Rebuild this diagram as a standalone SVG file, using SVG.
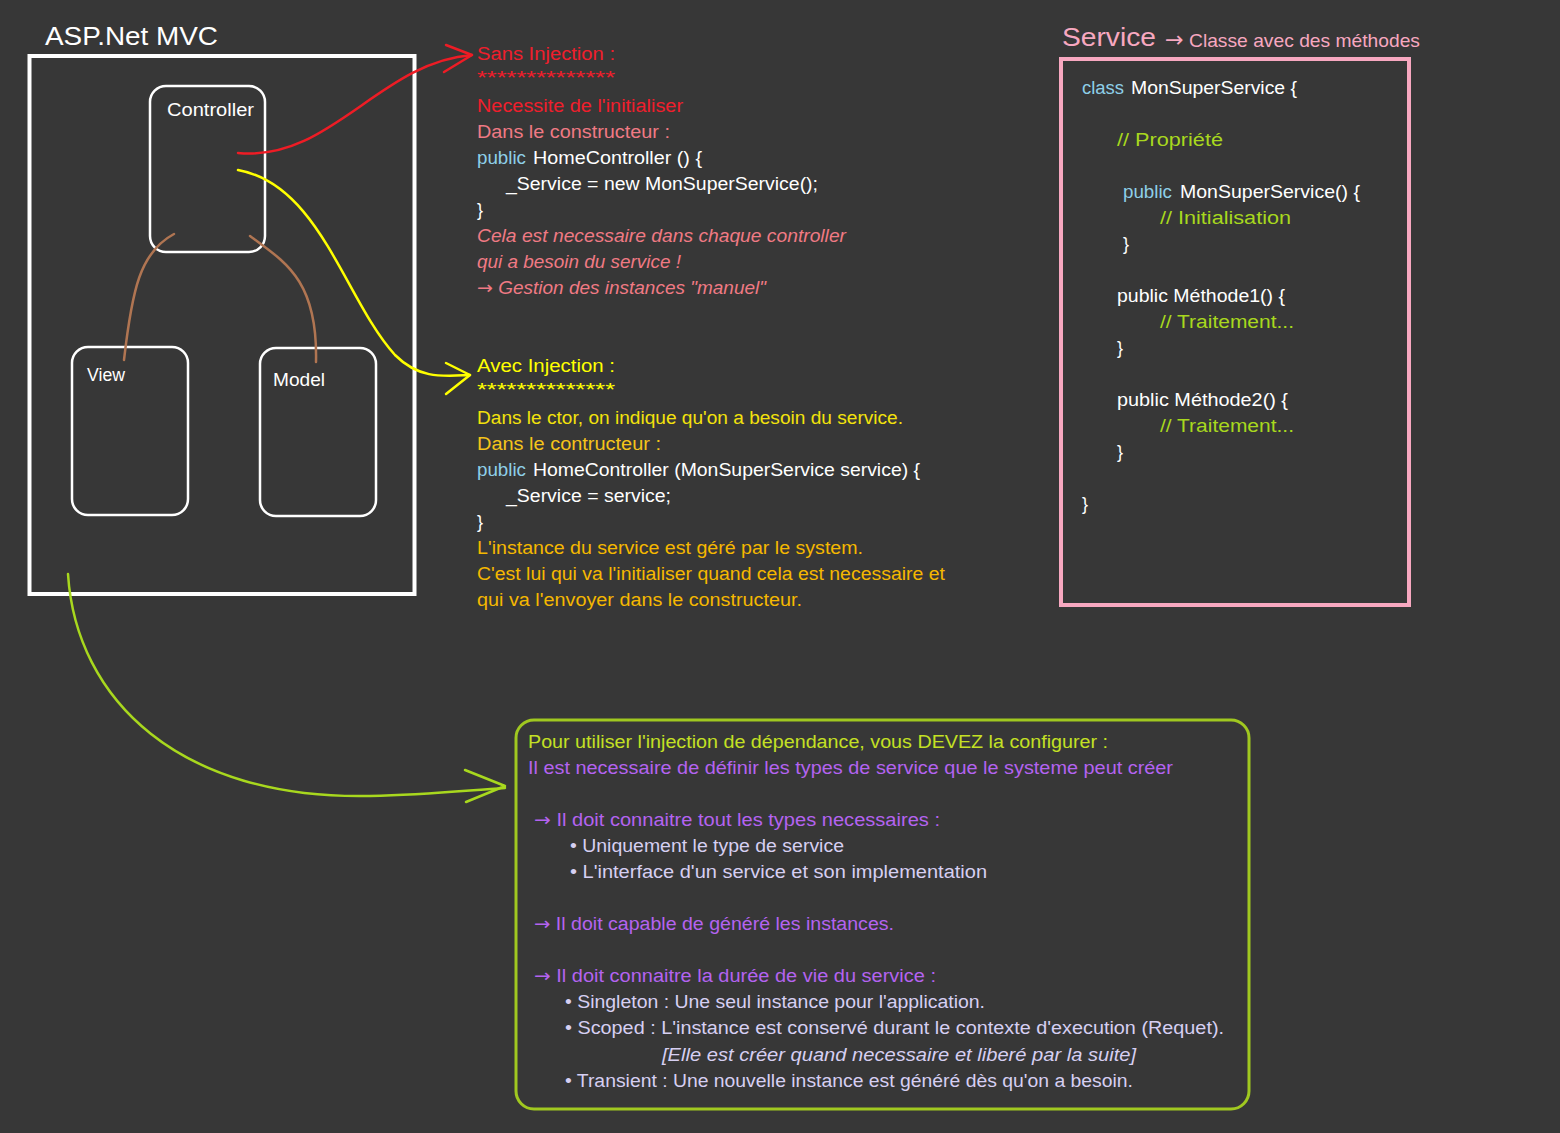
<svg xmlns="http://www.w3.org/2000/svg" width="1560" height="1133" viewBox="0 0 1560 1133">
<style>
text{font-family:"Liberation Sans","DejaVu Sans",sans-serif;font-size:18px}
.ar{font-family:"DejaVu Sans",sans-serif;font-style:normal}
.w{fill:#ffffff}
.kw{fill:#8ecfe8}
.red{fill:#f01e2c}
.pk{fill:#f07a84}
.yl{fill:#ffff00}
.y2{fill:#f3e20c}
.y3{fill:#f5c41a}
.y4{fill:#f5b800}
.sp{fill:#f7a8c0}
.cm{fill:#a8d81e}
.g1{fill:#c4e024}
.pu{fill:#b463f0}
.lv{fill:#d6cff2}
.it{font-style:italic}
.box{fill:none;stroke:#ffffff;stroke-width:2.5}
.ln{fill:none;stroke-width:2.5;stroke-linecap:round;stroke-linejoin:round}
</style>
<rect width="1560" height="1133" fill="#373737"/>

<g id="mvc">
<text x="45" y="45" class="w" style="font-size:26px" textLength="173" lengthAdjust="spacingAndGlyphs">ASP.Net MVC</text>
<rect x="29.5" y="56" width="385" height="538" fill="none" stroke="#ffffff" stroke-width="4"/>
</g>
<g id="controller">
<rect x="150" y="86" width="115" height="166" rx="16" class="box"/>
<text x="167" y="116" class="w" textLength="87" lengthAdjust="spacingAndGlyphs">Controller</text>
</g>
<g id="view">
<rect x="72" y="347" width="116" height="168" rx="16" class="box"/>
<text x="87" y="381" class="w" textLength="38" lengthAdjust="spacingAndGlyphs">View</text>
</g>
<g id="model">
<rect x="260" y="348" width="116" height="168" rx="16" class="box"/>
<text x="273" y="386" class="w" textLength="52" lengthAdjust="spacingAndGlyphs">Model</text>
</g>

<g id="connectors">
<path d="M174,234 C140,252 132,290 124,360" class="ln" stroke="#b07552"/>
<path d="M250,236 C285,262 318,280 316,362" class="ln" stroke="#b07552"/>
<path d="M238,153 C330,162 380,62 472,55" class="ln" stroke="#ee1c25"/>
<path d="M446,45 L472,55 L444,72" class="ln" stroke="#ee1c25"/>
<path d="M238,170 C320,185 345,300 395,355 C420,380 445,376 470,375" class="ln" stroke="#ffff00"/>
<path d="M446,363 L470,375 L446,394" class="ln" stroke="#ffff00"/>
<path d="M68,574 C76,700 180,800 370,796 C430,795 470,790 505,788" class="ln" stroke="#a8d81e"/>
<path d="M465,770 L505,786 L466,802" class="ln" stroke="#a8d81e"/>
</g>

<g id="sans-injection">
<text x="477" y="60" class="red" textLength="138" lengthAdjust="spacingAndGlyphs">Sans Injection :</text>
<text x="477" y="84" class="red" textLength="138" lengthAdjust="spacingAndGlyphs">**************</text>
<text x="477" y="112" class="red" textLength="206" lengthAdjust="spacingAndGlyphs">Necessite de l'initialiser</text>
<text x="477" y="138" class="pk" textLength="193" lengthAdjust="spacingAndGlyphs">Dans le constructeur :</text>
<text x="477" y="164" class="kw" textLength="49" lengthAdjust="spacingAndGlyphs">public</text>
<text x="533" y="164" class="w" textLength="169" lengthAdjust="spacingAndGlyphs">HomeController () {</text>
<text x="506" y="190" class="w" textLength="312" lengthAdjust="spacingAndGlyphs">_Service = new MonSuperService();</text>
<text x="477" y="216" class="w">}</text>
<text x="477" y="242" class="pk it" textLength="369" lengthAdjust="spacingAndGlyphs">Cela est necessaire dans chaque controller</text>
<text x="477" y="268" class="pk it" textLength="204" lengthAdjust="spacingAndGlyphs">qui a besoin du service !</text>
<text x="477" y="294" class="pk it" textLength="289" lengthAdjust="spacingAndGlyphs"><tspan class="ar">→</tspan> Gestion des instances "manuel"</text>
</g>

<g id="avec-injection">
<text x="477" y="372" class="yl" textLength="138" lengthAdjust="spacingAndGlyphs">Avec Injection :</text>
<text x="477" y="396" class="yl" textLength="138" lengthAdjust="spacingAndGlyphs">**************</text>
<text x="477" y="424" class="y2" textLength="426" lengthAdjust="spacingAndGlyphs">Dans le ctor, on indique qu'on a besoin du service.</text>
<text x="477" y="450" class="y3" textLength="184" lengthAdjust="spacingAndGlyphs">Dans le contructeur :</text>
<text x="477" y="476" class="kw" textLength="49" lengthAdjust="spacingAndGlyphs">public</text>
<text x="533" y="476" class="w" textLength="387" lengthAdjust="spacingAndGlyphs">HomeController (MonSuperService service) {</text>
<text x="506" y="502" class="w" textLength="165" lengthAdjust="spacingAndGlyphs">_Service = service;</text>
<text x="477" y="528" class="w">}</text>
<text x="477" y="554" class="y4" textLength="386" lengthAdjust="spacingAndGlyphs">L'instance du service est géré par le system.</text>
<text x="477" y="580" class="y4" textLength="468" lengthAdjust="spacingAndGlyphs">C'est lui qui va l'initialiser quand cela est necessaire et</text>
<text x="477" y="606" class="y4" textLength="325" lengthAdjust="spacingAndGlyphs">qui va l'envoyer dans le constructeur.</text>
</g>

<g id="service">
<text x="1062" y="46" class="sp" style="font-size:26px" textLength="94" lengthAdjust="spacingAndGlyphs">Service</text>
<text x="1165" y="47" class="sp" style="font-size:19px" textLength="255" lengthAdjust="spacingAndGlyphs"><tspan class="ar" style="font-size:22px">→</tspan> Classe avec des méthodes</text>
<rect x="1061" y="59" width="348" height="546" fill="none" stroke="#f7a8c0" stroke-width="4"/>
<text x="1082" y="94" class="kw" textLength="42" lengthAdjust="spacingAndGlyphs">class</text>
<text x="1131" y="94" class="w" textLength="166" lengthAdjust="spacingAndGlyphs">MonSuperService {</text>
<text x="1117" y="146" class="cm" textLength="106" lengthAdjust="spacingAndGlyphs">// Propriété</text>
<text x="1123" y="198" class="kw" textLength="49" lengthAdjust="spacingAndGlyphs">public</text>
<text x="1180" y="198" class="w" textLength="180" lengthAdjust="spacingAndGlyphs">MonSuperService() {</text>
<text x="1160" y="224" class="cm" textLength="131" lengthAdjust="spacingAndGlyphs">// Initialisation</text>
<text x="1123" y="250" class="w">}</text>
<text x="1117" y="302" class="w" textLength="168" lengthAdjust="spacingAndGlyphs">public Méthode1() {</text>
<text x="1160" y="328" class="cm" textLength="134" lengthAdjust="spacingAndGlyphs">// Traitement...</text>
<text x="1117" y="354" class="w">}</text>
<text x="1117" y="406" class="w" textLength="171" lengthAdjust="spacingAndGlyphs">public Méthode2() {</text>
<text x="1160" y="432" class="cm" textLength="134" lengthAdjust="spacingAndGlyphs">// Traitement...</text>
<text x="1117" y="458" class="w">}</text>
<text x="1082" y="510" class="w">}</text>
</g>

<g id="configuration">
<rect x="516" y="720" width="733" height="389" rx="18" fill="none" stroke="#a0c820" stroke-width="3"/>
<text x="528" y="748" class="g1" textLength="580" lengthAdjust="spacingAndGlyphs">Pour utiliser l'injection de dépendance, vous DEVEZ la configurer :</text>
<text x="528" y="774" class="pu" textLength="645" lengthAdjust="spacingAndGlyphs">Il est necessaire de définir les types de service que le systeme peut créer</text>
<text x="534" y="826" class="pu" textLength="406" lengthAdjust="spacingAndGlyphs"><tspan class="ar">→</tspan> Il doit connaitre tout les types necessaires :</text>
<text x="570" y="852" class="lv" textLength="274" lengthAdjust="spacingAndGlyphs">• Uniquement le type de service</text>
<text x="570" y="878" class="lv" textLength="417" lengthAdjust="spacingAndGlyphs">• L'interface d'un service et son implementation</text>
<text x="534" y="930" class="pu" textLength="360" lengthAdjust="spacingAndGlyphs"><tspan class="ar">→</tspan> Il doit capable de généré les instances.</text>
<text x="534" y="982" class="pu" textLength="402" lengthAdjust="spacingAndGlyphs"><tspan class="ar">→</tspan> Il doit connaitre la durée de vie du service :</text>
<text x="565" y="1008" class="lv" textLength="420" lengthAdjust="spacingAndGlyphs">• Singleton : Une seul instance pour l'application.</text>
<text x="565" y="1034" class="lv" textLength="659" lengthAdjust="spacingAndGlyphs">• Scoped : L'instance est conservé durant le contexte d'execution (Requet).</text>
<text x="662" y="1061" class="lv it" textLength="474" lengthAdjust="spacingAndGlyphs">[Elle est créer quand necessaire et liberé par la suite]</text>
<text x="565" y="1087" class="lv" textLength="568" lengthAdjust="spacingAndGlyphs">• Transient : Une nouvelle instance est généré dès qu'on a besoin.</text>
</g>
</svg>
